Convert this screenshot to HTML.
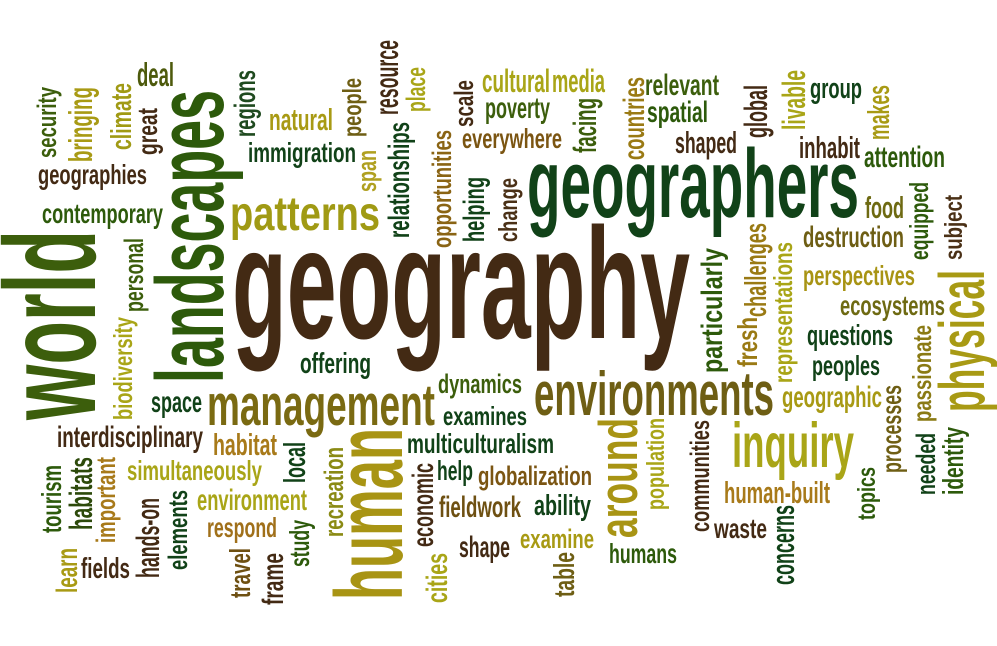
<!DOCTYPE html>
<html>
<head>
<meta charset="utf-8">
<style>
html,body{margin:0;padding:0;background:#fff;}
svg{display:block;}
text{font-family:"Liberation Sans Narrow","Liberation Sans",sans-serif;font-weight:bold;}
</style>
</head>
<body>
<svg id="cloud" width="997" height="646" viewBox="0 0 997 646" xmlns="http://www.w3.org/2000/svg">
<rect width="997" height="646" fill="#fff"/>
</svg>
<script>
// [word, x (left or baseline-x if rotated), y (baseline or bottom if rotated), fontSize, length, rotated, color]
var BR="#432a14",DG="#114218",G="#2d5a0b",LG="#3c5e0c",MU="#a89a14",ML="#a9a517",OB="#6e5e14",OC="#a87a1a",OK="#9a7a14",EB="#7b5512",OL="#6e6a12";
var words=[
["geography",232,338,158,458,0,BR],
["geographers",527,217,97,332,0,DG],
["landscapes",223,383,96,293,1,G],
["world",95,420,130,190,1,LG],
["human",402,600,96,172,1,"#a89414"],
["physical",984,412,64,142,1,MU],
["environments",534,415,62,240,0,OB],
["management",207,425,58,228,0,"#7a6a12"],
["inquiry",732,467,63,122,0,ML],
["around",637,538,55,120,1,"#a89414"],
["patterns",230,230,48,150,0,"#a09a14"],
["deal",137,86,33,37,0,"#4d5a0c"],
["security",56,158,27,71,1,LG],
["bringing",92,162,33,75,1,MU],
["climate",131,150,29,67,1,"#a09a14"],
["great",157,155,28,47,1,BR],
["regions",255,137,30,67,1,"#1f4a1f"],
["natural",269,130,31,64,0,MU],
["immigration",248,162,28,108,0,DG],
["people",361,137,26,59,1,OB],
["resource",398,115,33,75,1,BR],
["place",425,112,27,45,1,ML],
["span",376,192,27,42,1,"#b0a020"],
["relationships",409,238,30,116,1,DG],
["scale",473,127,27,47,1,BR],
["opportunities",451,248,27,118,1,"#8a6414"],
["helping",484,242,30,65,1,DG],
["change",517,242,26,64,1,"#4a3016"],
["geographies",38,184,28,109,0,BR],
["contemporary",42,223,28,121,0,G],
["personal",143,312,27,74,1,LG],
["biodiversity",132,420,26,103,1,ML],
["cultural",482,92,32,68,0,ML],
["media",552,92,32,53,0,ML],
["poverty",485,118,30,65,0,LG],
["everywhere",462,148,28,100,0,EB],
["facing",596,153,32,55,1,LG],
["countries",644,160,30,83,1,OK],
["relevant",645,95,30,74,0,LG],
["spatial",647,122,30,61,0,G],
["shaped",675,153,31,62,0,BR],
["global",767,138,32,53,1,BR],
["livable",805,130,32,60,1,ML],
["group",810,98,29,52,0,DG],
["makes",889,140,31,55,1,MU],
["inhabit",799,158,31,61,0,BR],
["attention",864,167,30,81,0,G],
["food",865,218,31,39,0,OL],
["equipped",928,260,26,78,1,G],
["subject",962,260,25,65,1,"#4a3016"],
["destruction",803,247,30,101,0,OB],
["perspectives",803,285,28,112,0,"#a89414"],
["ecosystems",840,315,28,105,0,OL],
["challenges",766,317,31,94,1,OK],
["representations",792,383,26,141,1,ML],
["fresh",757,367,28,50,1,OK],
["particularly",722,373,30,125,1,G],
["questions",807,345,29,86,0,DG],
["peoples",812,375,28,68,0,DG],
["passionate",931,422,26,97,1,"#8a7a14"],
["geographic",782,407,30,100,0,MU],
["processes",901,473,28,88,1,OB],
["needed",935,495,27,62,1,DG],
["identity",963,495,29,68,1,G],
["topics",875,520,25,53,1,G],
["human-built",724,503,31,106,0,OC],
["concerns",794,585,32,80,1,DG],
["waste",714,538,28,53,0,BR],
["communities",709,532,27,112,1,BR],
["population",664,510,25,92,1,ML],
["humans",609,563,28,68,0,G],
["table",574,597,29,45,1,OB],
["examine",520,548,27,74,0,MU],
["ability",534,515,29,57,0,DG],
["globalization",478,485,27,114,0,EB],
["fieldwork",439,517,30,82,0,"#6e5012"],
["dynamics",438,393,27,84,0,LG],
["examines",443,425,26,84,0,DG],
["multiculturalism",407,453,28,147,0,DG],
["help",437,480,28,36,0,DG],
["shape",459,557,30,51,0,BR],
["economic",433,547,30,84,1,BR],
["cities",447,603,30,50,1,ML],
["recreation",343,537,27,90,1,"#8a8a14"],
["study",309,567,28,47,1,G],
["frame",283,605,30,52,1,BR],
["travel",250,598,29,50,1,"#6e5012"],
["local",305,483,31,41,1,DG],
["habitat",213,455,31,64,0,OC],
["respond",207,537,28,70,0,"#a0701a"],
["environment",197,510,30,110,0,ML],
["simultaneously",127,480,28,135,0,ML],
["offering",300,373,29,71,0,DG],
["space",151,412,30,51,0,DG],
["interdisciplinary",57,447,30,146,0,BR],
["tourism",61,533,28,68,1,G],
["habitats",92,530,32,73,1,"#2d4a0b"],
["important",115,543,27,86,1,OC],
["hands-on",159,578,32,80,1,BR],
["elements",187,570,27,80,1,DG],
["learn",77,593,30,45,1,MU],
["fields",81,578,29,49,0,BR]
];
var svg=document.getElementById('cloud');
var NS="http://www.w3.org/2000/svg";
words.forEach(function(w){
  var t=document.createElementNS(NS,'text');
  
  
  t.setAttribute('font-size', w[3]);
  t.setAttribute('fill', w[6]);
  t.setAttribute('textLength', w[4]);
  t.setAttribute('lengthAdjust', 'spacingAndGlyphs');
  if(w[5]){
    t.setAttribute('x', 0);
    t.setAttribute('y', 0);
    t.setAttribute('transform', 'translate('+w[1]+','+w[2]+') rotate(-90)');
  } else {
    t.setAttribute('x', w[1]);
    t.setAttribute('y', w[2]);
  }
  t.textContent=w[0];
  svg.appendChild(t);
});
</script>
</body>
</html>
